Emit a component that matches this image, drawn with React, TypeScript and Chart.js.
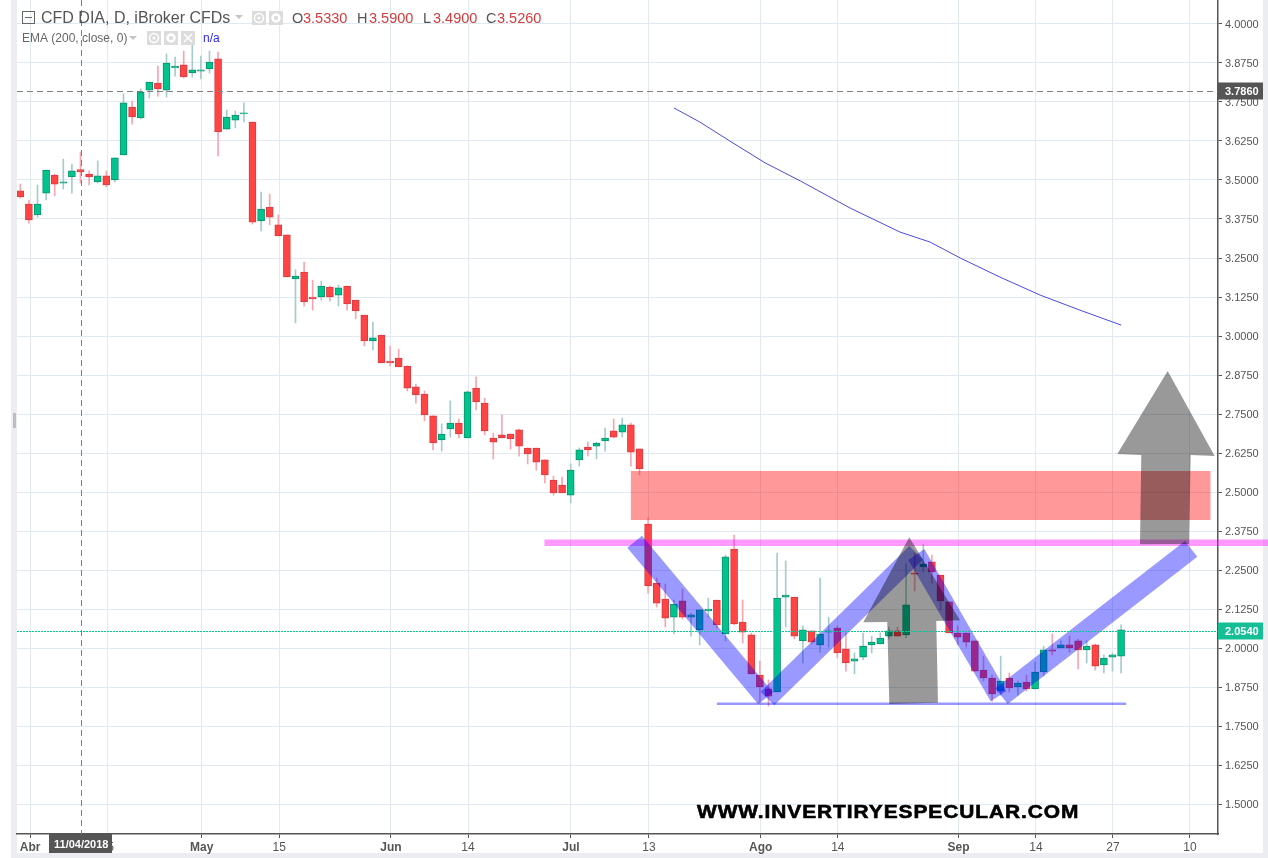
import React, { useEffect, useRef } from "react";
import { Chart, registerables } from "chart.js";

Chart.register(...registerables);

const opens = [3.465,3.423,3.388,3.458,3.516,3.490,3.510,3.533,3.519,3.494,3.513,3.500,3.580,3.734,3.699,3.788,3.811,3.788,3.859,3.869,3.843,3.849,3.856,3.888,3.663,3.692,3.712,3.686,3.369,3.413,3.356,3.324,3.183,3.205,3.125,3.125,3.157,3.131,3.160,3.115,3.067,2.984,3.003,2.920,2.929,2.904,2.837,2.814,2.744,2.667,2.702,2.721,2.673,2.833,2.785,2.673,2.683,2.686,2.699,2.641,2.641,2.603,2.538,2.522,2.490,2.603,2.644,2.647,2.664,2.696,2.692,2.715,2.638,2.397,2.208,2.157,2.099,2.151,2.099,2.058,2.119,2.154,2.045,2.317,2.083,2.042,1.913,1.869,1.859,2.163,2.163,2.023,2.055,2.010,2.051,2.064,1.997,1.958,1.971,2.010,2.013,2.038,2.055,2.042,2.240,2.260,2.276,2.234,2.148,2.048,2.048,2.023,1.929,1.904,1.862,1.904,1.875,1.891,1.869,1.923,1.994,2.000,2.010,2.023,1.994,2.010,1.946,1.971,1.974];
const highs = [3.487,3.436,3.484,3.532,3.519,3.567,3.551,3.590,3.529,3.561,3.529,3.571,3.776,3.753,3.792,3.814,3.865,3.904,3.894,3.913,3.933,3.897,3.913,3.910,3.724,3.721,3.747,3.686,3.461,3.455,3.388,3.324,3.212,3.237,3.179,3.176,3.160,3.163,3.160,3.115,3.067,3.045,3.003,2.968,2.958,2.904,2.846,2.824,2.744,2.718,2.792,2.734,2.824,2.869,2.801,2.689,2.747,2.686,2.702,2.641,2.641,2.603,2.551,2.548,2.590,2.641,2.660,2.660,2.705,2.734,2.737,2.721,2.638,2.417,2.224,2.205,2.154,2.189,2.112,2.122,2.160,2.154,2.298,2.362,2.154,2.048,1.958,1.898,2.304,2.279,2.163,2.071,2.055,2.224,2.099,2.071,2.048,1.984,2.048,2.038,2.048,2.067,2.067,2.269,2.304,2.333,2.298,2.234,2.148,2.071,2.048,2.023,1.974,1.913,1.974,1.920,1.894,1.913,1.955,2.006,2.045,2.023,2.038,2.029,2.023,2.013,1.978,1.984,2.074];
const lows = [3.442,3.362,3.381,3.436,3.449,3.471,3.458,3.490,3.484,3.490,3.478,3.494,3.580,3.679,3.696,3.763,3.769,3.766,3.833,3.827,3.830,3.824,3.843,3.577,3.663,3.667,3.686,3.359,3.337,3.356,3.321,3.189,3.042,3.096,3.083,3.115,3.112,3.096,3.083,3.055,2.968,2.955,2.914,2.904,2.901,2.824,2.785,2.728,2.635,2.631,2.676,2.673,2.673,2.763,2.683,2.606,2.673,2.638,2.615,2.590,2.570,2.529,2.490,2.497,2.465,2.583,2.615,2.606,2.631,2.673,2.676,2.583,2.555,2.176,2.131,2.067,2.045,2.093,2.038,2.010,2.099,2.064,2.023,2.074,2.016,1.917,1.827,1.814,1.859,2.067,2.029,1.952,2.013,1.987,2.003,1.968,1.926,1.917,1.962,1.984,2.013,2.029,2.038,2.032,2.183,2.244,2.208,2.122,2.048,2.010,2.003,1.926,1.894,1.830,1.849,1.859,1.849,1.862,1.869,1.910,1.978,2.000,1.987,1.933,1.952,1.929,1.920,1.926,1.920];
const closes = [3.446,3.372,3.423,3.532,3.487,3.494,3.529,3.526,3.510,3.513,3.484,3.571,3.747,3.702,3.782,3.814,3.792,3.875,3.865,3.830,3.853,3.853,3.878,3.654,3.702,3.708,3.715,3.365,3.407,3.381,3.321,3.189,3.192,3.109,3.119,3.160,3.125,3.154,3.103,3.080,2.984,2.994,2.914,2.914,2.901,2.833,2.811,2.747,2.657,2.686,2.721,2.686,2.821,2.789,2.696,2.660,2.673,2.670,2.647,2.622,2.596,2.555,2.497,2.497,2.570,2.635,2.635,2.657,2.673,2.676,2.715,2.628,2.574,2.199,2.144,2.096,2.141,2.099,2.106,2.122,2.125,2.074,2.292,2.077,2.051,1.917,1.875,1.846,2.160,2.170,2.038,2.058,2.019,2.045,2.055,1.984,1.952,1.965,2.006,2.019,2.032,2.055,2.038,2.138,2.237,2.269,2.244,2.151,2.048,2.035,2.019,1.926,1.904,1.853,1.894,1.872,1.888,1.869,1.923,1.994,1.990,2.010,2.000,1.994,2.006,1.942,1.968,1.978,2.058];

const emaIndex = [76,79,82.5,86.6,90.7,96.5,102.3,105.8,109.3,113.9,118.6,123.2,128];
const emaValues = [3.731,3.686,3.625,3.555,3.497,3.410,3.333,3.301,3.250,3.189,3.131,3.083,3.035];

const yTickValues = [1.5,1.625,1.75,1.875,2,2.125,2.25,2.375,2.5,2.625,2.75,2.875,3,3.125,3.25,3.375,3.5,3.625,3.75,3.875,4];
const xTickValues = [1.15,10.1,21.1,30.1,43.1,52.06,64.03,73.1,86.1,95.06,109.1,118.1,127.06,136];
const xTickLabels = ["Abr","15","May","15","Jun","14","Jul","13","Ago","14","Sep","14","27","10"];
const monthLabels = ["Abr","May","Jun","Jul","Ago","Sep"];

const lastPrice = 2.054;
const crossPrice = 3.786;
const crossIndex = 7.05;

type Pt = [number, number];
const resistanceZone: Pt[] = [[71,2.567],[138.4,2.567],[138.4,2.41],[71,2.41]];
const neckline: Pt[] = [[60.95,2.3478],[145.08,2.3478],[145.08,2.3269],[60.95,2.3269]];
const baseline: Pt[] = [[81,1.8253],[128.6,1.8253],[128.6,1.8173],[81,1.8173]];
const armA: Pt[] = [[72.29,2.3599],[70.58,2.3215],[85.81,1.8196],[87.52,1.858]];
const armB: Pt[] = [[87.67,1.8163],[86.09,1.8599],[103.37,2.3269],[104.97,2.2833]];
const armC: Pt[] = [[105.12,2.3173],[103.26,2.282],[112.84,1.8292],[114.65,1.8622]];
const armD: Pt[] = [[114.81,1.8205],[113.38,1.8708],[135.43,2.3429],[136.86,2.2926]];
const arrowOne: Pt[] = [[103.37,2.3548],[109.27,2.0888],[106.51,2.0865],[106.71,1.8247],[101.05,1.8205],[100.81,2.0833],[98.02,2.0824]];
const arrowTwo: Pt[] = [[133.42,2.8878],[138.88,2.6154],[136.09,2.6186],[135.9,2.3333],[130.2,2.3323],[130.35,2.6186],[127.56,2.6218]];

const FONT = '"Liberation Sans", Arial, sans-serif';

const isUp = (i: number) => closes[i] >= opens[i];

function poly(chart: any, pts: Pt[], fill: string) {
  const { ctx, scales } = chart;
  ctx.beginPath();
  pts.forEach(([x, y], i) => {
    const px = scales.x.getPixelForValue(x);
    const py = scales.y.getPixelForValue(y);
    if (i === 0) ctx.moveTo(px, py);
    else ctx.lineTo(px, py);
  });
  ctx.closePath();
  ctx.fillStyle = fill;
  ctx.fill();
}

function iconBox(ctx: any, x: number, y: number, kind: string) {
  ctx.fillStyle = "#dcdcdc";
  ctx.fillRect(x, y, 14, 14);
  ctx.strokeStyle = "#ffffff";
  ctx.fillStyle = "#ffffff";
  ctx.lineWidth = 1.5;
  ctx.beginPath();
  if (kind === "x") {
    ctx.moveTo(x + 3, y + 3);
    ctx.lineTo(x + 11, y + 11);
    ctx.moveTo(x + 11, y + 3);
    ctx.lineTo(x + 3, y + 11);
    ctx.stroke();
  } else if (kind === "eye") {
    ctx.arc(x + 7, y + 7, 4.5, 0, Math.PI * 2);
    ctx.stroke();
    ctx.beginPath();
    ctx.arc(x + 7, y + 7, 1.5, 0, Math.PI * 2);
    ctx.fill();
  } else {
    ctx.arc(x + 7, y + 7, 3.5, 0, Math.PI * 2);
    ctx.lineWidth = 2.5;
    ctx.stroke();
  }
}

function caret(ctx: any, x: number, y: number) {
  ctx.fillStyle = "#c4c4c4";
  ctx.beginPath();
  ctx.moveTo(x, y);
  ctx.lineTo(x + 8, y);
  ctx.lineTo(x + 4, y + 4);
  ctx.closePath();
  ctx.fill();
}

const chromePlugin = {
  id: "chrome",
  beforeDraw(chart: any) {
    const { ctx } = chart;
    ctx.save();
    ctx.fillStyle = "#ffffff";
    ctx.fillRect(0, 0, 1268, 858);
    ctx.fillStyle = "#ebedf0";
    ctx.fillRect(11, 0, 6, 858);
    ctx.fillRect(1263, 0, 5, 858);
    ctx.fillRect(17, 853, 1246, 5);
    ctx.fillStyle = "#bdbdbd";
    ctx.fillRect(13, 413, 3, 15);
    ctx.restore();
  },
  afterDraw(chart: any) {
    const { ctx, scales } = chart;
    const x = scales.x;
    const y = scales.y;
    ctx.save();

    poly(chart, resistanceZone, "rgba(255,0,0,0.4)");
    poly(chart, neckline, "rgba(255,0,255,0.4)");
    poly(chart, baseline, "rgba(0,0,255,0.4)");
    [armA, armB, armC, armD].forEach((a) => poly(chart, a, "rgba(0,0,255,0.4)"));
    [arrowOne, arrowTwo].forEach((a) => poly(chart, a, "rgba(0,0,0,0.4)"));

    // price and cross lines
    ctx.lineWidth = 1;
    ctx.setLineDash([2, 1]);
    ctx.strokeStyle = "#00c896";
    const ly = Math.round(y.getPixelForValue(lastPrice)) + 0.5;
    ctx.beginPath();
    ctx.moveTo(17, ly);
    ctx.lineTo(1218, ly);
    ctx.stroke();

    ctx.setLineDash([6, 4]);
    ctx.strokeStyle = "#808080";
    const cy = Math.round(y.getPixelForValue(crossPrice)) + 0.5;
    const cx = Math.round(x.getPixelForValue(crossIndex)) + 0.5;
    ctx.beginPath();
    ctx.moveTo(17, cy);
    ctx.lineTo(1218, cy);
    ctx.moveTo(cx, 0);
    ctx.lineTo(cx, 834);
    ctx.stroke();
    ctx.setLineDash([]);

    // axis flags
    ctx.font = `bold 11px ${FONT}`;
    ctx.textBaseline = "middle";
    ctx.textAlign = "left";
    ctx.fillStyle = "#555555";
    ctx.fillRect(1218, cy - 9, 45, 17);
    ctx.fillStyle = "#ffffff";
    ctx.fillText(crossPrice.toFixed(4), 1225, cy);
    ctx.fillStyle = "#14bf95";
    ctx.fillRect(1218, ly - 9, 45, 17);
    ctx.fillStyle = "#ffffff";
    ctx.fillText(lastPrice.toFixed(4), 1225, ly);
    ctx.fillStyle = "#555555";
    ctx.fillRect(49, 834, 63, 19);
    ctx.fillStyle = "#ffffff";
    ctx.fillText("11/04/2018", 54, 845);

    // header
    ctx.strokeStyle = "#666666";
    ctx.lineWidth = 1;
    ctx.strokeRect(22.5, 11.5, 12, 12);
    ctx.beginPath();
    ctx.moveTo(25, 17.5);
    ctx.lineTo(32, 17.5);
    ctx.stroke();

    ctx.textBaseline = "alphabetic";
    ctx.font = `16px ${FONT}`;
    ctx.fillStyle = "#555555";
    ctx.fillText("CFD DIA, D, iBroker CFDs", 41, 23);
    caret(ctx, 235, 15);
    iconBox(ctx, 252, 11, "eye");
    iconBox(ctx, 269, 11, "gear");

    const ohlc: [string, string, number, number][] = [
      ["O", "3.5330", 292, 303],
      ["H", "3.5900", 357, 369],
      ["L", "3.4900", 423, 433],
      ["C", "3.5260", 486, 497],
    ];
    ctx.font = `14.5px ${FONT}`;
    ohlc.forEach(([k, v, kx, vx]) => {
      ctx.fillStyle = "#555555";
      ctx.fillText(k, kx, 23);
      ctx.fillStyle = "#d63b3b";
      ctx.fillText(v, vx, 23);
    });

    ctx.font = `12px ${FONT}`;
    ctx.fillStyle = "#666666";
    ctx.fillText("EMA (200, close, 0)", 22, 42);
    caret(ctx, 129, 36);
    iconBox(ctx, 147, 31, "eye");
    iconBox(ctx, 164, 31, "gear");
    iconBox(ctx, 181, 31, "x");
    ctx.fillStyle = "#2a2aff";
    ctx.fillText("n/a", 203, 42);

    // watermark
    ctx.save();
    ctx.translate(697, 817.5);
    ctx.scale(1.1, 1);
    ctx.font = `bold 19px ${FONT}`;
    ctx.letterSpacing = "0.85px";
    ctx.fillStyle = "#000000";
    ctx.strokeStyle = "#000000";
    ctx.lineWidth = 0.6;
    ctx.fillText("WWW.INVERTIRYESPECULAR.COM", 0, 0);
    ctx.strokeText("WWW.INVERTIRYESPECULAR.COM", 0, 0);
    ctx.restore();
    ctx.restore();
  },
};

export default function App() {
  const ref = useRef<HTMLCanvasElement | null>(null);

  useEffect(() => {
    if (!ref.current) return;
    const idx = opens.map((_, i) => i);
    const chart = new Chart(ref.current, {
      type: "bar",
      plugins: [chromePlugin],
      data: {
        datasets: [
          {
            type: "line",
            label: "EMA (200, close, 0)",
            data: emaIndex.map((x, i) => ({ x, y: emaValues[i] })),
            borderColor: "#4a4ae6",
            borderWidth: 1,
            pointRadius: 0,
            tension: 0,
            order: 1,
          },
          {
            type: "bar",
            label: "Body",
            data: idx.map((i) => ({ x: i, y: [opens[i], closes[i]] })),
            backgroundColor: idx.map((i) => (isUp(i) ? "#00c48c" : "#ff4444")),
            borderColor: idx.map((i) => (isUp(i) ? "#0b8f6e" : "#d63b45")),
            borderWidth: 1,
            borderSkipped: false,
            barThickness: 7,
            grouped: false,
            order: 2,
          },
          {
            type: "bar",
            label: "Wick",
            data: idx.map((i) => ({ x: i, y: [lows[i], highs[i]] })),
            backgroundColor: idx.map((i) => (isUp(i) ? "#a5cccb" : "#f8a5b0")),
            borderWidth: 0,
            barThickness: 1,
            grouped: false,
            order: 3,
          },
        ],
      } as any,
      options: {
        animation: false,
        responsive: false,
        events: [],
        layout: { padding: { left: 17, right: 0, top: 0, bottom: 0 } },
        plugins: { legend: { display: false }, tooltip: { enabled: false } },
        scales: {
          x: {
            type: "linear",
            offset: false,
            min: -0.384,
            max: 139.27,
            grid: { offset: false, color: "#e1eaf0", tickColor: "#555555", tickLength: 4 },
            border: { color: "#555555", width: 1.5 },
            afterBuildTicks: (s: any) => {
              s.ticks = xTickValues.map((value) => ({ value }));
            },
            afterFit: (s: any) => {
              s.height = 24;
              s.paddingLeft = 0;
              s.paddingRight = 0;
            },
            ticks: {
              autoSkip: false,
              maxRotation: 0,
              padding: 2,
              color: "#555555",
              font: (c: any) => {
                const i = xTickValues.indexOf(c.tick ? c.tick.value : -1);
                return {
                  family: FONT,
                  size: 12,
                  weight: monthLabels.includes(xTickLabels[i]) ? "bold" : "normal",
                };
              },
              callback: (v: any) => xTickLabels[xTickValues.indexOf(Number(v))] ?? "",
            },
          },
          y: {
            type: "linear",
            position: "right",
            min: 1.4039,
            max: 4.0769,
            grid: { color: "#e1eaf0", tickColor: "#555555", tickLength: 4 },
            border: { color: "#555555", width: 1.5 },
            afterBuildTicks: (s: any) => {
              s.ticks = yTickValues.map((value) => ({ value }));
            },
            afterFit: (s: any) => {
              s.width = 50;
              s.paddingTop = 0;
              s.paddingBottom = 0;
            },
            ticks: {
              autoSkip: false,
              padding: 3,
              labelOffset: 1,
              color: "#555555",
              font: { family: FONT, size: 11 },
              callback: (v: any) => Number(v).toFixed(4),
            },
          },
        },
      } as any,
    });
    return () => chart.destroy();
  }, []);

  return (
    <canvas
      ref={ref}
      width={1268}
      height={858}
      style={{ position: "absolute", left: 0, top: 0, display: "block" }}
    />
  );
}
